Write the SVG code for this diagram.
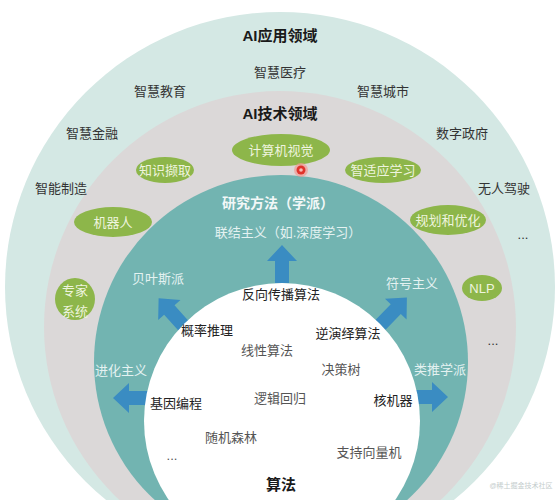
<svg xmlns="http://www.w3.org/2000/svg" width="560" height="500" viewBox="0 0 560 500">
<defs>
<style>
text{font-family:"Liberation Sans","Noto Sans CJK SC",sans-serif;text-anchor:middle;dominant-baseline:central}
.title{font-size:15px;font-weight:bold;fill:#1a1a1a}
.app{font-size:13px;fill:#333}
.pill{fill:#8db64a}
.pt{font-size:13px;fill:#eef4de}
.tl{font-size:13px;fill:#e4f2f1}
.alg{font-size:13px;fill:#555}
.algb{font-size:13px;fill:#222}
.arrow{fill:#3a8cc2}
</style>
<path id="arr" d="M0,-20 L15,-4 L7,-4 L7,18 L-7,18 L-7,-4 L-15,-4 Z"/>
</defs>
<rect width="560" height="500" fill="#ffffff"/>
<g id="rings">
<circle cx="280" cy="287" r="275" fill="#d4e8e4"/>
<circle cx="280" cy="327" r="236" fill="#dbd8d8"/>
<circle cx="281" cy="362" r="187" fill="#72b4b1"/>
</g>
<g id="connectors">
<use href="#arr" class="arrow" transform="translate(282,265)"/>
<use href="#arr" class="arrow" transform="translate(172,313) rotate(-42)"/>
<use href="#arr" class="arrow" transform="translate(393,312) rotate(44)"/>
<use href="#arr" class="arrow" transform="translate(133,398) rotate(-90)"/>
<use href="#arr" class="arrow" transform="translate(428,397) rotate(90)"/>
</g>
<g id="inner">
<circle cx="282" cy="421" r="138" fill="#ffffff"/>
</g>
<g id="app-domain">
<text class="title" x="280" y="35">AI应用领域</text>
<text class="app" x="280" y="72">智慧医疗</text>
<text class="app" x="160" y="91">智慧教育</text>
<text class="app" x="383" y="91">智慧城市</text>
<text class="app" x="92" y="133">智慧金融</text>
<text class="app" x="462" y="133">数字政府</text>
<text class="app" x="61" y="188">智能制造</text>
<text class="app" x="504" y="188">无人驾驶</text>
<text class="app" x="523" y="234">...</text>
</g>
<g id="tech-domain">
<text class="title" x="280" y="113">AI技术领域</text>
<text class="app" x="493" y="340">...</text>
</g>
<g id="n-cv"><ellipse class="pill" cx="281" cy="150" rx="49" ry="16"/><text class="pt" x="281" y="150">计算机视觉</text></g>
<g id="n-ke"><ellipse class="pill" cx="165" cy="170" rx="29" ry="13"/><text class="pt" x="165" y="170">知识撷取</text></g>
<g id="n-al"><ellipse class="pill" cx="383" cy="170" rx="38" ry="13"/><text class="pt" x="383" y="170">智适应学习</text></g>
<g id="n-robot"><ellipse class="pill" cx="113" cy="222" rx="39" ry="15"/><text class="pt" x="113" y="222">机器人</text></g>
<g id="n-plan"><ellipse class="pill" cx="448" cy="220" rx="38" ry="15"/><text class="pt" x="448" y="220">规划和优化</text></g>
<g id="n-expert"><ellipse class="pill" cx="75" cy="299" rx="20" ry="21"/><text class="pt" x="75" y="290">专家</text><text class="pt" x="75" y="311">系统</text></g>
<g id="n-nlp"><ellipse class="pill" cx="482" cy="288" rx="20" ry="13"/><text class="pt" x="482" y="288">NLP</text></g>
<g id="dot">
<circle cx="301" cy="170" r="7" fill="#f29a94" opacity="0.7"/>
<circle cx="301" cy="170" r="4.5" fill="#e0332b"/>
<circle cx="301" cy="170" r="1.8" fill="#f6bdb8"/>
</g>
<g id="schools">
<text x="278" y="203" style="font-size:14px;font-weight:bold;fill:#f2f8f8">研究方法（学派）</text>
<text class="tl" x="288" y="232">联结主义（如.深度学习）</text>
<text class="tl" x="158" y="278">贝叶斯派</text>
<text class="tl" x="412" y="283">符号主义</text>
<text class="tl" x="121" y="370">进化主义</text>
<text class="tl" x="440" y="369">类推学派</text>
</g>
<g id="algorithms">
<text class="algb" x="281" y="294">反向传播算法</text>
<text class="algb" x="207" y="330">概率推理</text>
<text class="algb" x="348" y="333">逆演绎算法</text>
<text class="alg" x="267" y="350">线性算法</text>
<text class="alg" x="341" y="369">决策树</text>
<text class="alg" x="280" y="398">逻辑回归</text>
<text class="algb" x="176" y="403">基因编程</text>
<text class="algb" x="393" y="400">核机器</text>
<text class="alg" x="231" y="437">随机森林</text>
<text class="alg" x="172" y="455">...</text>
<text class="alg" x="369" y="452">支持向量机</text>
<text x="281" y="484" style="font-size:15px;font-weight:bold;fill:#1a1a1a">算法</text>
</g>
<text x="521" y="485" style="font-size:7px;fill:#c4cccc">@稀土掘金技术社区</text>
</svg>
